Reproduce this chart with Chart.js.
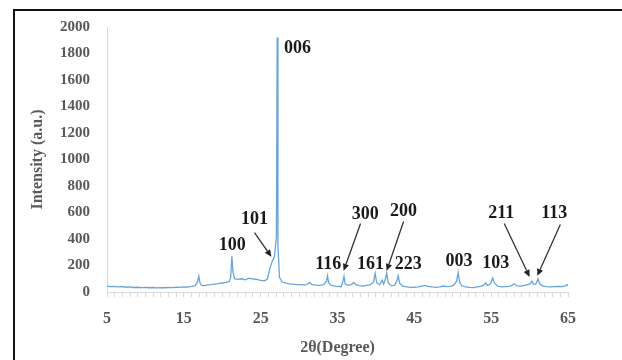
<!DOCTYPE html>
<html>
<head>
<meta charset="utf-8">
<script src="https://cdn.jsdelivr.net/npm/chart.js@4"></script>
<style>
  html, body { margin: 0; padding: 0; background: #fff; width: 622px; height: 360px; overflow: hidden; }
  #frame { position: absolute; left: 13px; top: 9px; width: 700px; height: 400px; border: 2px solid #111; box-sizing: border-box; }
  #wrap { position: absolute; left: 0; top: 0; width: 622px; height: 360px; }
</style>
</head>
<body>
<div id="frame"></div>
<div id="wrap"><canvas id="c" width="622" height="360"></canvas></div>
<script>
// 2θ positions (degrees)
const twoTheta = [
  5, 5.5, 6, 6.5, 7, 7.5, 8, 8.5, 9, 9.5, 10, 10.5, 11, 11.5, 12, 12.5, 13, 13.5, 14, 14.5, 15, 15.5, 16, 16.5,
  16.8, 16.95, 17.1, 17.3, 17.7, 18, 18.5, 19, 19.5, 20, 20.5, 20.9, 21.1, 21.25, 21.4, 21.6, 22, 22.5, 23, 23.5,
  24, 24.5, 25, 25.5, 25.9, 26.2, 26.5, 26.8, 27.05, 27.15, 27.25, 27.45, 27.8, 28.2, 28.7, 29.2, 29.7, 30.2, 30.7,
  31.1, 31.4, 31.7, 32.2, 32.7, 33.2, 33.55, 33.7, 33.85, 34.2, 34.7, 35.2, 35.5, 35.7, 35.85, 36.0, 36.4, 36.8,
  37.1, 37.4, 37.8, 38.3, 38.8, 39.3, 39.7, 39.9, 40.1, 40.5, 40.8, 41.0, 41.25, 41.4, 41.6, 42.0, 42.4, 42.7,
  42.9, 43.1, 43.5, 44, 44.5, 45, 45.5, 46, 46.4, 46.8, 47.3, 47.8, 48.3, 48.8, 49.2, 49.7, 50.1, 50.5, 50.7,
  50.9, 51.2, 51.7, 52.2, 52.7, 53.2, 53.6, 54.0, 54.3, 54.5, 54.9, 55.2, 55.4, 55.8, 56.3, 56.8, 57.3, 57.7,
  58.0, 58.3, 58.8, 59.3, 59.8, 60.1, 60.3, 60.5, 60.8, 61.1, 61.3, 61.7, 62.2, 62.7, 63.2, 63.7, 64.2, 64.6,
  64.85, 65
];
// intensity (a.u.)
const intensity = [
  45, 40, 42, 38, 40, 36, 38, 34, 36, 33, 35, 32, 34, 31, 33, 32, 34, 33, 36, 35, 38, 37, 42, 48,
  80, 120, 70, 50, 48, 52, 55, 60, 63, 68, 72, 80, 110, 270, 150, 100, 95, 100, 92, 105,
  98, 95, 88, 85, 100, 180, 230, 270, 420, 1920, 350, 110, 75, 68, 62, 60, 55, 56, 52,
  60, 72, 55, 52, 50, 55, 80, 122, 70, 50, 45, 42, 40, 80, 118, 60, 50, 55,
  72, 55, 48, 45, 50, 55, 75, 140, 70, 55, 90, 60, 100, 142, 70, 48, 50, 80,
  122, 65, 45, 38, 35, 36, 38, 45, 50, 42, 38, 35, 38, 45, 40, 42, 50, 80, 148,
  75, 45, 38, 35, 33, 38, 42, 50, 70, 50, 60, 106, 70, 45, 38, 40, 42, 50,
  62, 48, 45, 50, 55, 65, 82, 60, 58, 100, 62, 45, 40, 38, 40, 42, 40, 45,
  55, 45
];
// axis tick values
const xTickLabels = [5, 15, 25, 35, 45, 55, 65];
const yTickValues = [0, 200, 400, 600, 800, 1000, 1200, 1400, 1600, 1800, 2000];

// peak annotations: label, label position (deg, intensity)
const peakLabels = ["006", "100", "101", "116", "300", "200", "161", "223", "003", "103", "211", "113"];
const peakLabelX = [29.8, 21.3, 24.2, 33.8, 38.6, 43.6, 39.3, 44.2, 50.8, 55.6, 56.3, 63.2];
const peakLabelY = [1840, 350, 548, 205, 585, 608, 205, 205, 228, 213, 593, 593];
// arrows: from (x0,y0) to (x1,y1) in data units
const arrowFromX = [24.2, 38.0, 43.6, 56.7, 64.0];
const arrowFromY = [449, 517, 532, 517, 510];
const arrowToX = [26.4, 35.8, 41.4, 60.0, 61.0];
const arrowToY = [266, 160, 160, 114, 122];

const points = twoTheta.map((x, i) => ({ x: x, y: intensity[i] }));
const serif = "'Liberation Serif', 'DejaVu Serif', serif";

const annotPlugin = {
  id: 'annot',
  afterDatasetsDraw(chart) {
    const ctx = chart.ctx, xs = chart.scales.x, ys = chart.scales.y;
    ctx.save();
    ctx.fillStyle = '#1a1a1a';
    ctx.font = "bold 18px " + serif;
    ctx.textAlign = 'center';
    ctx.textBaseline = 'middle';
    peakLabels.forEach((t, i) => {
      ctx.fillText(t, xs.getPixelForValue(peakLabelX[i]), ys.getPixelForValue(peakLabelY[i]));
    });
    ctx.strokeStyle = '#333';
    ctx.fillStyle = '#222';
    ctx.lineWidth = 1.3;
    arrowFromX.forEach((_, i) => {
      const x0 = xs.getPixelForValue(arrowFromX[i]), y0 = ys.getPixelForValue(arrowFromY[i]);
      const x1 = xs.getPixelForValue(arrowToX[i]), y1 = ys.getPixelForValue(arrowToY[i]);
      const a = Math.atan2(y1 - y0, x1 - x0);
      const hl = 7, hw = 3.2;
      const bx = x1 - hl * Math.cos(a), by = y1 - hl * Math.sin(a);
      ctx.beginPath(); ctx.moveTo(x0, y0); ctx.lineTo(bx, by); ctx.stroke();
      ctx.beginPath();
      ctx.moveTo(x1, y1);
      ctx.lineTo(bx + hw * Math.sin(a), by - hw * Math.cos(a));
      ctx.lineTo(bx - hw * Math.sin(a), by + hw * Math.cos(a));
      ctx.closePath(); ctx.fill();
    });
    ctx.restore();
  }
};

new Chart(document.getElementById('c'), {
  type: 'line',
  data: {
    datasets: [{
      data: points,
      borderColor: '#6aa5da',
      borderWidth: 1.3,
      pointRadius: 0,
      tension: 0,
      fill: false
    }]
  },
  options: {
    responsive: false,
    animation: false,
    events: [],
    layout: { padding: { left: 24, top: 27, right: 54, bottom: 0 } },
    plugins: { legend: { display: false }, tooltip: { enabled: false } },
    scales: {
      x: {
        type: 'linear',
        min: 5, max: 65,
        afterFit(s) { s.height = 68; },
        afterBuildTicks(s) {
          const t = [];
          for (let v = 5; v <= 65; v++) t.push({ value: v });
          s.ticks = t;
        },
        ticks: {
          autoSkip: false,
          maxRotation: 0,
          padding: 12,
          color: '#595959',
          font: { family: serif, size: 16, weight: 'bold' },
          callback: (v) => xTickLabels.includes(v) ? String(v) : ''
        },
        grid: { drawOnChartArea: false, drawTicks: true, tickLength: 5, color: '#d9d9d9' },
        border: { display: true, color: '#d9d9d9', width: 1 },
        title: {
          display: true, text: '2θ(Degree)', color: '#595959',
          font: { family: serif, size: 16, weight: 'bold' },
          padding: { top: 0, bottom: 3 }
        }
      },
      y: {
        min: 0, max: 2000,
        afterFit(s) { s.width = 83; },
        afterBuildTicks(s) { s.ticks = yTickValues.map(v => ({ value: v })); },
        ticks: {
          padding: 17,
          color: '#595959',
          font: { family: serif, size: 15, weight: 'bold' },
          callback: (v) => String(v)
        },
        grid: { display: false, drawTicks: false },
        border: { display: true, color: '#d9d9d9', width: 1 },
        title: {
          display: true, text: 'Intensity (a.u.)', color: '#595959',
          font: { family: serif, size: 16, weight: 'bold' },
          padding: { top: 4, bottom: 0 }
        }
      }
    }
  },
  plugins: [annotPlugin]
});
</script>
</body>
</html>
